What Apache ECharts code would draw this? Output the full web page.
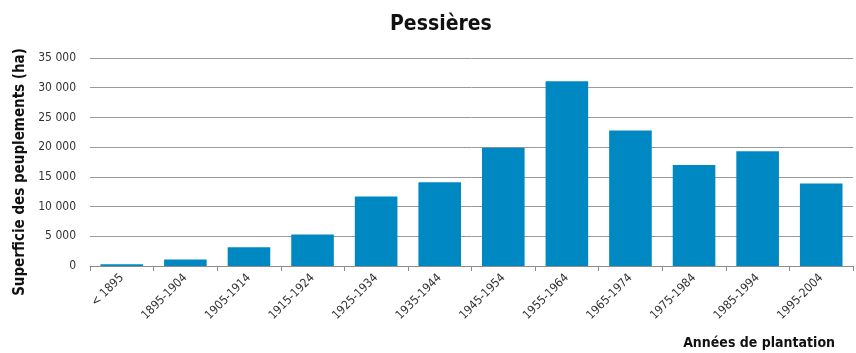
<html>
<head>
    <meta http-equiv="Content-Type" content="text/html; charset=utf-8">
    <script type="text/javascript" src="https://cdn.jsdelivr.net/npm/echarts@6/dist/echarts.min.js"></script>
    <style>
        html, body { margin: 0; padding: 0; background: #fff; }
        #main { width: 856px; height: 353px; }
    </style>
</head>
<body>
<div id="main"></div>
<script type="text/javascript">
    var categories = ['< 1895', '1895-1904', '1905-1914', '1915-1924', '1925-1934', '1935-1944',
        '1945-1954', '1955-1964', '1965-1974', '1975-1984', '1985-1994', '1995-2004'];
    var superficie = [300, 1100, 3150, 5300, 11700, 14100, 19900, 31100, 22800, 17000, 19300, 13900];
    var yTicks = [0, 5000, 10000, 15000, 20000, 25000, 30000, 35000];

    var font = '"Liberation Sans Narrow", "DejaVu Sans Condensed", sans-serif';

    function fmt(v) {
        // 35000 -> "35 000"
        return String(v).replace(/\B(?=(\d{3})+(?!\d))/g, ' ');
    }

    var myChart = echarts.init(document.getElementById('main'));
    var option = {
        animation: false,
        title: [
            {
                text: 'Pessières',
                left: 385,
                top: 9,
                textStyle: { fontFamily: font, fontSize: 21, fontWeight: 'bold', color: '#111' }
            },
            {
                text: 'Années de plantation',
                right: 16,
                top: 331,
                textStyle: { fontFamily: font, fontSize: 14, fontWeight: 'bold', color: '#111' }
            }
        ],
        grid: { left: 90, right: 3, top: 58, bottom: 87 },
        xAxis: {
            type: 'category',
            data: categories,
            axisLine: { lineStyle: { color: '#8c8c8c', width: 1 } },
            axisTick: { show: true, length: 5, lineStyle: { color: '#8c8c8c' } },
            axisLabel: {
                rotate: 45,
                margin: 10,
                fontFamily: font,
                fontSize: 12,
                color: '#333'
            }
        },
        yAxis: {
            type: 'value',
            min: yTicks[0],
            max: yTicks[yTicks.length - 1],
            interval: 5000,
            name: 'Superficie des peuplements (ha)',
            nameLocation: 'middle',
            nameGap: 62,
            nameTextStyle: { fontFamily: font, fontSize: 15, fontWeight: 'bold', color: '#111', padding: [0, 20, 0, 0] },
            axisLine: { show: false },
            axisTick: { show: false },
            axisLabel: {
                margin: 14,
                fontFamily: font,
                fontSize: 12,
                color: '#333',
                formatter: function (v) { return fmt(v); }
            },
            splitLine: { lineStyle: { color: '#9a9a9a', width: 1 } }
        },
        series: [
            {
                type: 'bar',
                data: superficie,
                barCategoryGap: '33%',
                itemStyle: { color: '#0088c3' }
            }
        ]
    };
    myChart.setOption(option);
</script>
</body>
</html>
